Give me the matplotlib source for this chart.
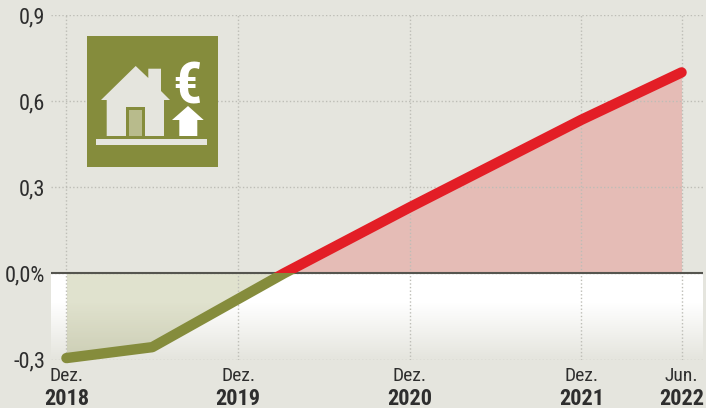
import numpy as np
import matplotlib.pyplot as plt
from matplotlib.patches import Rectangle, Polygon

plt.rcParams['font.family'] = ['Roboto Condensed', 'Archivo Narrow', 'DejaVu Sans']

# Data, months since Dez. 2018
months = [0, 6, 15.2, 24, 36, 43]
values = [-0.295, -0.257, 0.0, 0.23, 0.535, 0.70]
tick_months = [0, 12, 24, 36, 43]
tick_top = ['Dez.', 'Dez.', 'Dez.', 'Dez.', 'Jun.']
tick_year = ['2018', '2019', '2020', '2021', '2022']
y_ticks = [-0.3, 0, 0.3, 0.6, 0.9]
y_labels = ['-0,3', '0,0%', '0,3', '0,6', '0,9']

bg = '#e5e5de'
olive = '#858c3c'
red = '#e31e26'
text_col = '#2e2e2e'

W, H = 706, 408
fig = plt.figure(figsize=(W/100, H/100), dpi=100, facecolor=bg)
ax = fig.add_axes([51/W, 1-359.5/H, 652/W, 344.5/H], facecolor=bg)
for s in ax.spines.values():
    s.set_visible(False)

# white fade below the zero line
fade = np.ones((100, 2, 4))
fade[:, :, 3] = np.clip(np.linspace(1.55, 0, 100), 0, 1)[:, None]
ax.imshow(fade, extent=[-1.08, 44.5, -0.3, 0], origin='upper', aspect='auto', zorder=1)
ax.set_xlim(-1.08, 44.5)
ax.set_ylim(-0.3, 0.9)

# areas
m = np.array(months)
v = np.array(values)
ax.fill_between(m[:3], v[:3], 0, color=olive, alpha=0.25, lw=0, zorder=2)
ax.fill_between(m[2:], v[2:], 0, color='#e5bcb6', lw=0, zorder=2)

# grid
ax.set_xticks(tick_months)
ax.set_yticks(y_ticks)
ax.set_xticklabels([])
ax.set_yticklabels(y_labels, fontsize=16, color=text_col)
ax.tick_params(length=0, pad=4)
ax.grid(True, color='#bdbdb6', linestyle=(0, (1, 1.6)), linewidth=1.0, zorder=3)
ax.set_axisbelow(False)
ax.axhline(0, color='#55554f', lw=1.5, zorder=4)

# line, olive under zero and red above
low, = ax.plot(months, values, color=olive, lw=7.5, solid_capstyle='round',
               solid_joinstyle='round', zorder=5)
low.set_clip_path(Rectangle((-5, -1), 60, 1, transform=ax.transData))
high, = ax.plot(months, values, color=red, lw=7.5, solid_capstyle='round',
                solid_joinstyle='round', zorder=5)
high.set_clip_path(Rectangle((-5, 0), 60, 2, transform=ax.transData))

# x labels
trans = ax.get_xaxis_transform()
for x, a, b in zip(tick_months, tick_top, tick_year):
    ax.annotate(a, (x, 0), xycoords=trans, xytext=(0, -12.2), textcoords='offset points',
                ha='center', va='center', fontsize=14, color=text_col, annotation_clip=False)
    ax.annotate(b, (x, 0), xycoords=trans, xytext=(0, -32.5), textcoords='offset points',
                ha='center', va='baseline', fontsize=16, fontweight='bold', color=text_col,
                annotation_clip=False)

# icon, pixel coordinates
ic = fig.add_axes([0, 0, 1, 1], facecolor='none')
ic.set_xlim(0, W)
ic.set_ylim(H, 0)
ic.axis('off')
ic.add_patch(Rectangle((87, 36), 131, 131, color=olive, lw=0))
house = [(135.7, 66), (148.3, 78), (148.3, 68.7), (161, 68.7), (161, 91), (170, 100),
         (164, 100), (164, 136), (106.7, 136), (106.7, 100), (101, 100)]
ic.add_patch(Polygon(house, color=bg, lw=0))
ic.add_patch(Rectangle((125.7, 107), 19.3, 29, color=olive, lw=0))
ic.add_patch(Rectangle((129.3, 110.3), 12.7, 25.7, color='#b8bb8c', lw=0))
ic.add_patch(Rectangle((96, 139.3), 111, 5.4, color=bg, lw=0))
arrow = [(188, 106), (203.7, 120), (197.3, 120), (197.3, 136), (179.3, 136), (179.3, 120), (172, 120)]
ic.add_patch(Polygon(arrow, color='white', lw=0))
ic.text(187, 82, '€', color='white', fontsize=42, fontweight='bold',
        ha='center', va='center_baseline')

fig.savefig('out.png', dpi=100, facecolor=bg)
